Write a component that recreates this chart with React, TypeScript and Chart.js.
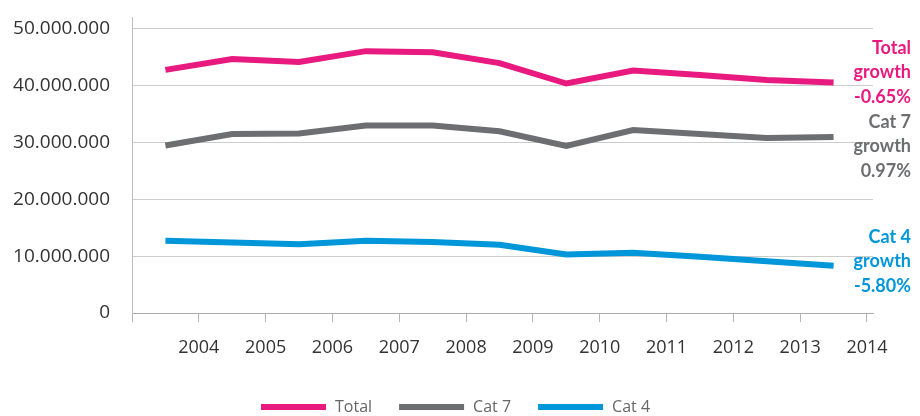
import React, { useEffect, useRef } from 'react';
import { Chart, registerables } from 'chart.js';

Chart.register(...registerables);

const years = [2004, 2005, 2006, 2007, 2008, 2009, 2010, 2011, 2012, 2013, 2014];
const totalValues = [42.8e6, 44.7e6, 44.2e6, 46.1e6, 45.9e6, 44.0e6, 40.4e6, 42.7e6, 41.9e6, 41.0e6, 40.6e6];
const cat7Values = [29.5e6, 31.5e6, 31.6e6, 33.0e6, 33.0e6, 32.0e6, 29.4e6, 32.2e6, 31.5e6, 30.8e6, 31.0e6];
const cat4Values = [12.7e6, 12.4e6, 12.1e6, 12.7e6, 12.5e6, 12.0e6, 10.3e6, 10.6e6, 9.9e6, 9.1e6, 8.3e6];
const yTickValues = [0, 10e6, 20e6, 30e6, 40e6, 50e6];
const seriesNames = ['Total', 'Cat 7', 'Cat 4'];
const growthLabels = [
  ['Total', 'growth', '-0.65%'],
  ['Cat 7', 'growth', '0.97%'],
  ['Cat 4', 'growth', '-5.80%'],
];

const PINK = '#E8197F';
const GREY = '#6D6E71';
const BLUE = '#0096DA';
const colors = [PINK, GREY, BLUE];

const fmt = (v: number) => String(Math.round(v)).replace(/\B(?=(\d{3})+(?!\d))/g, '.');

const growthPlugin = {
  id: 'growthText',
  afterDraw(chart: any) {
    const ctx = chart.ctx;
    const starts = [48, 122, 237];
    ctx.save();
    ctx.font = 'bold 18px Lato';
    ctx.textAlign = 'right';
    ctx.textBaseline = 'middle';
    growthLabels.forEach((lines, i) => {
      ctx.fillStyle = colors[i];
      lines.forEach((t, j) => ctx.fillText(t, 911, starts[i] + j * 24.5));
    });
    ctx.restore();
  },
};

const legendPlugin = {
  id: 'bottomLegend',
  afterDraw(chart: any) {
    const ctx = chart.ctx;
    const boxW = 65;
    const boxH = 6;
    const gapText = 9;
    const gapItem = 27;
    const cy = 407;
    ctx.save();
    ctx.font = '16px "Open Sans"';
    ctx.textBaseline = 'middle';
    ctx.textAlign = 'left';
    let x = 261;
    chart.data.datasets.forEach((d: any) => {
      const w = ctx.measureText(d.label).width;
      ctx.fillStyle = d.borderColor;
      ctx.fillRect(x, cy - boxH / 2, boxW, boxH);
      ctx.fillStyle = '#666';
      ctx.fillText(d.label, x + boxW + gapText, cy);
      x += boxW + gapText + w + gapItem;
    });
    ctx.restore();
  },
};

export default function App() {
  const ref = useRef<HTMLCanvasElement | null>(null);
  useEffect(() => {
    if (!ref.current) return;
    const series = [totalValues, cat7Values, cat4Values];
    const chart = new Chart(ref.current, {
      type: 'line',
      data: {
        datasets: series.map((vals, i) => ({
          label: seriesNames[i],
          data: years.map((yr, k) => ({ x: yr - 0.5, y: vals[k] })),
          borderColor: colors[i],
          backgroundColor: colors[i],
          borderWidth: 6,
          pointRadius: 0,
          tension: 0,
          fill: false,
        })),
      },
      options: {
        animation: false,
        responsive: true,
        maintainAspectRatio: false,
        layout: { padding: { top: 17, right: 47, left: 0, bottom: 0 } },
        plugins: {
          tooltip: { enabled: false },
          legend: { display: false },
        },
        scales: {
          x: {
            type: 'linear',
            min: years[0] - 1,
            max: years[years.length - 1] + 0.09,
            afterBuildTicks: (axis: any) => {
              axis.ticks = [years[0] - 1, ...years].map((v) => ({ value: v }));
            },
            afterFit: (axis: any) => {
              axis.height = 103;
              axis.paddingLeft = 0;
              axis.paddingRight = 0;
            },
            ticks: {
              autoSkip: false,
              maxRotation: 0,
              padding: 15,
              color: '#333',
              font: { family: '"Open Sans"', size: 18 },
              callback: (v: any) => (years.includes(Number(v)) ? String(v) : ''),
            },
            grid: { drawOnChartArea: false, drawTicks: true, tickLength: 9, color: '#b5b5b5' },
            border: { display: true, color: '#aaaaaa', width: 1 },
          },
          y: {
            min: 0,
            max: 52.11e6,
            afterBuildTicks: (axis: any) => {
              axis.ticks = yTickValues.map((v) => ({ value: v }));
            },
            afterFit: (axis: any) => {
              axis.width = 132;
              axis.paddingTop = 0;
              axis.paddingBottom = 0;
            },
            ticks: {
              padding: 22,
              color: '#333',
              font: { family: '"Open Sans"', size: 19 },
              callback: (v: any) => fmt(Number(v)),
            },
            grid: { color: '#cccccc', drawTicks: false },
            border: { display: true, color: '#bdbdbd', width: 1 },
          },
        },
      },
      plugins: [growthPlugin, legendPlugin],
    });
    return () => chart.destroy();
  }, []);
  return (
    <div style={{ position: 'fixed', left: 0, top: 0, width: 920, height: 416, background: '#fff' }}>
      <canvas ref={ref} />
    </div>
  );
}
